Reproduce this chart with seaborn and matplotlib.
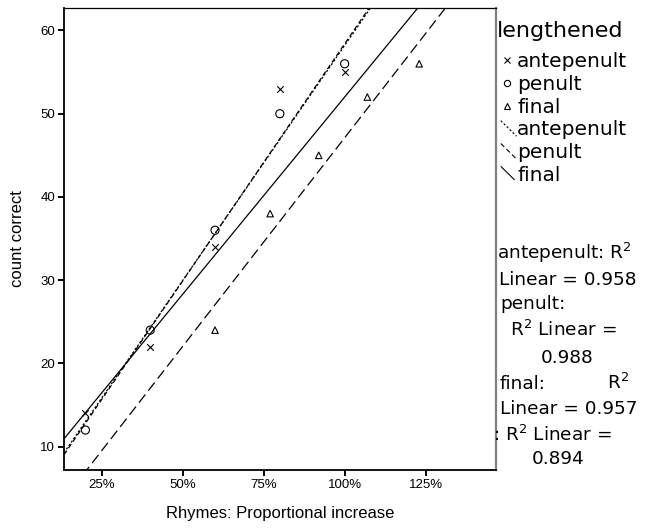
import numpy as np
import pandas as pd
import matplotlib.pyplot as plt
import seaborn as sns
from matplotlib.lines import Line2D
from matplotlib.legend_handler import HandlerLine2D

# data
ante_x = [0.20, 0.40, 0.60, 0.80, 1.00]
ante_y = [14, 22, 34, 53, 55]
pen_x = [0.20, 0.40, 0.60, 0.80, 1.00]
pen_y = [12, 24, 36, 50, 56]
fin_x = [0.60, 0.77, 0.92, 1.07, 1.23]
fin_y = [24, 38, 45, 52, 56]
groups = ["antepenult", "penult", "final"]
r2_values = [0.958, 0.988, 0.957, 0.894]
x_ticks = [0.25, 0.50, 0.75, 1.00, 1.25]
y_ticks = [10, 20, 30, 40, 50, 60]

df = pd.DataFrame({
    "rhymes": ante_x + pen_x + fin_x,
    "count": ante_y + pen_y + fin_y,
    "lengthened": [groups[0]] * 5 + [groups[1]] * 5 + [groups[2]] * 5,
})

sns.set_theme(style="white")
plt.rcParams["font.family"] = ["Liberation Sans", "DejaVu Sans"]
plt.rcParams["lines.scale_dashes"] = False
plt.rcParams["text.color"] = "black"
plt.rcParams["axes.labelcolor"] = "black"

W, H = 651, 529
fig = plt.figure(figsize=(W / 100, H / 100), dpi=100)
ax = fig.add_axes([64 / W, 59 / H, 432 / W, 462 / H])

xlim = (0.134, 1.467)
ylim = (7.2, 62.7)
ax.set_xlim(xlim)
ax.set_ylim(ylim)

markers = {"antepenult": "x", "penult": "o", "final": "^"}
msize = {"antepenult": 22, "penult": 34, "final": 22}
dashes = {"antepenult": (0, (1.6, 1.4)), "penult": (0, (3.5, 2.2)), "final": (0, (7.5, 3.5))}

# total fit (solid line, no legend entry)
sns.regplot(data=df, x="rhymes", y="count", scatter=False, ci=None, truncate=False,
            color="black", line_kws={"lw": 0.9, "ls": "-"}, ax=ax)

for g in groups:
    sub = df[df["lengthened"] == g]
    kws = {"s": msize[g], "linewidths": 0.8, "alpha": 1}
    if g != "antepenult":
        kws["facecolors"] = "none"
    sns.regplot(data=sub, x="rhymes", y="count", ci=None, truncate=False,
                marker=markers[g], color="black", scatter_kws=kws,
                line_kws={"lw": 0.9, "ls": dashes[g]}, ax=ax)

ax.set_xlim(xlim)
ax.set_ylim(ylim)
ax.set_xticks(x_ticks)
ax.set_xticklabels([f"{int(round(t * 100))}%" for t in x_ticks])
ax.set_yticks(y_ticks)
ax.tick_params(axis="both", direction="out", length=4.5, width=1.4, pad=2,
               labelsize=9.5, colors="black", bottom=True, left=True)
ax.set_xlabel("Rhymes: Proportional increase", fontsize=12, labelpad=11)
ax.set_ylabel("count correct", fontsize=12, labelpad=11)

for side in ["left", "bottom"]:
    ax.spines[side].set_color("black")
    ax.spines[side].set_linewidth(1.3)
ax.spines["top"].set_color("black")
ax.spines["top"].set_linewidth(0.9)
ax.spines["right"].set_color("#808080")
ax.spines["right"].set_linewidth(1.6)


class DiagonalLine(HandlerLine2D):
    def create_artists(self, legend, orig_handle, xdescent, ydescent,
                       width, height, fontsize, trans):
        line = Line2D([-xdescent + 2, -xdescent + width + 1],
                      [-ydescent + height * 1.05, -ydescent - height * 0.05])
        self.update_prop(line, orig_handle, legend)
        line.set_transform(trans)
        return [line]


handles = [
    Line2D([], [], marker="x", ls="none", color="black", markersize=4, mew=0.8),
    Line2D([], [], marker="o", ls="none", color="black", mfc="none", markersize=4.5, mew=0.8),
    Line2D([], [], marker="^", ls="none", color="black", mfc="none", markersize=4, mew=0.8),
]
legend_dashes = [dashes["antepenult"], dashes["penult"], (0, (14, 3))]
line_handles = [Line2D([], [], color="black", lw=0.8, ls=d) for d in legend_dashes]
hmap = {h: DiagonalLine() for h in line_handles}

fig.text(497 / W, 1 - 37 / H, "lengthened", ha="left", va="baseline",
         fontsize=16, family="DejaVu Sans", color="black")
fig.legend(handles + line_handles, groups + groups,
           loc="upper left", bbox_to_anchor=(498 / W, 1 - 52 / H),
           frameon=False, prop={"family": "DejaVu Sans", "size": 14.5},
           labelcolor="black", handlelength=0.85, handletextpad=0.1,
           labelspacing=0.19, borderpad=0, borderaxespad=0, handler_map=hmap)

# R^2 annotations
r2_lines = [
    (497, 253, "antepenult: R$^2$"),
    (499, 279, f"Linear = {r2_values[0]:.3f}"),
    (500, 303, "penult:"),
    (510, 330, "R$^2$ Linear ="),
    (541, 357, f"{r2_values[1]:.3f}"),
    (500, 383, "final:"),
    (607, 383, "R$^2$"),
    (500, 408, f"Linear = {r2_values[2]:.3f}"),
    (493, 435, ": R$^2$ Linear ="),
    (532, 458, f"{r2_values[3]:.3f}"),
]
for x, y, s in r2_lines:
    fig.text(x / W, 1 - (y + 6) / H, s, ha="left", va="baseline",
             fontsize=13.3, family="DejaVu Sans", color="black")

fig.savefig("out.png", dpi=100)
